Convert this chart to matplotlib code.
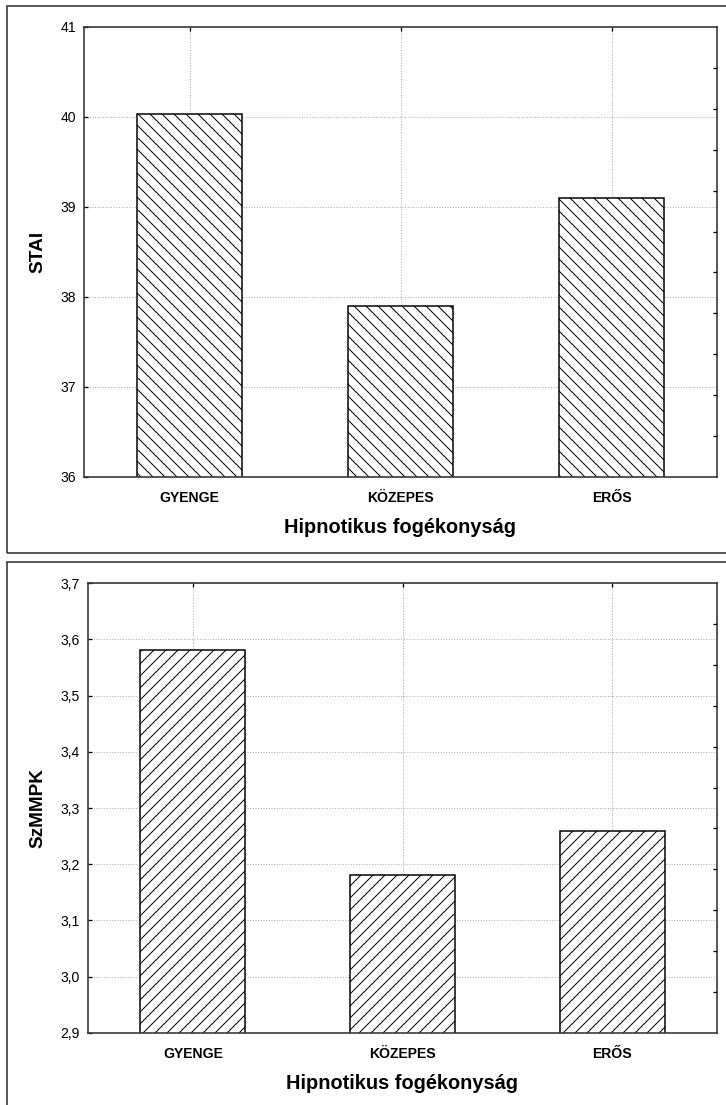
import numpy as np
import matplotlib
matplotlib.use('Agg')
import matplotlib.pyplot as plt
from matplotlib.patches import Rectangle

plt.rcParams['font.family'] = ['Liberation Sans', 'DejaVu Sans']
plt.rcParams['hatch.linewidth'] = 1.0

categories = ['GYENGE', 'KÖZEPES', 'ERŐS']
xlabel = 'Hipnotikus fogékonyság'

stai = [40.03, 37.9, 39.1]
stai_ticks = [36, 37, 38, 39, 40, 41]
stai_labels = ['36', '37', '38', '39', '40', '41']

szmmpk = [3.58, 3.18, 3.26]
szmmpk_ticks = [2.9, 3.0, 3.1, 3.2, 3.3, 3.4, 3.5, 3.6, 3.7]
szmmpk_labels = ['2,9', '3,0', '3,1', '3,2', '3,3', '3,4', '3,5', '3,6', '3,7']

W, H = 726, 1105
fig = plt.figure(figsize=(W / 72, H / 72), dpi=72)

def fr(l, t, r, b):
    return [l / W, 1 - b / H, (r - l) / W, (b - t) / H]

# panel borders
for (l, t, r, b) in [(7, 6, 740, 553), (7, 562, 740, 1120)]:
    fig.patches.append(Rectangle((l / W, 1 - b / H), (r - l) / W, (b - t) / H,
                                 transform=fig.transFigure, fill=False,
                                 edgecolor='#333333', linewidth=1.6))

def panel(box, vals, ticks, labels, ylab, hatch):
    ax = fig.add_axes(box)
    x = np.arange(len(categories))
    ax.bar(x, vals, width=0.5, color='white',
           edgecolor='black', linewidth=1.5, hatch=hatch, zorder=3)
    ax.set_xlim(-0.5, 2.5)
    ax.set_ylim(ticks[0], ticks[-1])
    ax.set_yticks(ticks)
    ax.set_yticklabels(labels)
    ax.set_xticks(x)
    ax.set_xticklabels(categories, fontweight='bold', fontsize=14)
    ax.grid(True, linestyle=':', color='#aaaaaa', linewidth=1, zorder=0)
    ax.set_axisbelow(True)
    ax.tick_params(axis='y', direction='in', length=4, width=1.3, labelsize=14, pad=8)
    ax.tick_params(axis='x', direction='in', length=4, width=1.3, pad=14,
                   top=True)
    for s in ax.spines.values():
        s.set_linewidth(1.6)
        s.set_color('#333333')
        s.set_zorder(4)
    ax.set_xlabel(xlabel, fontsize=20, fontweight='bold', labelpad=13)
    ax.set_ylabel(ylab, fontsize=19, fontweight='bold', labelpad=14)
    # right-side tick marks
    ax2 = ax.twinx()
    ax2.set_ylim(0, 11)
    ax2.set_yticks(np.arange(1, 11))
    ax2.set_yticklabels([])
    ax2.tick_params(axis='y', direction='in', length=4, width=1.3)
    for s in ax2.spines.values():
        s.set_visible(False)
    return ax

panel(fr(84, 27, 717, 477), stai, stai_ticks, stai_labels, 'STAI', '\\\\')
panel(fr(88, 583, 717, 1033), szmmpk, szmmpk_ticks, szmmpk_labels, 'SzMMPK', '//')

fig.savefig('out.png', dpi=72, facecolor='white')
